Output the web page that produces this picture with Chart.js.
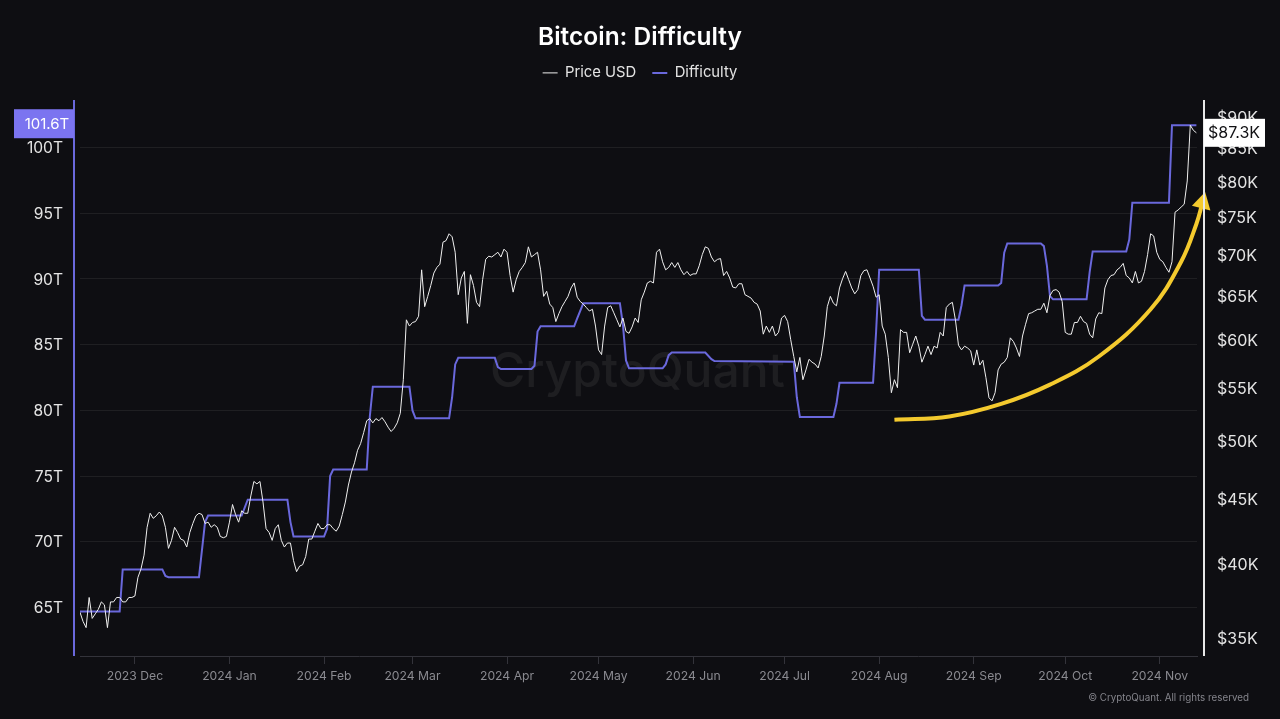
<!DOCTYPE html>
<html>
<head>
<meta charset="utf-8">
<title>Bitcoin: Difficulty</title>
<script src="https://cdn.jsdelivr.net/npm/chart.js@4"></script>
<style>
	html, body { margin: 0; padding: 0; background: #0e0e12; }
	canvas { display: block; }
</style>
</head>
<body>
<canvas id="chart" width="1280" height="719"></canvas>
<script>
// x is days since 2023-11-13
const monthTickDays = [18, 49, 80, 109, 140, 170, 201, 231, 262, 293, 323, 354]
const monthLabels = ['2023 Dec', '2024 Jan', '2024 Feb', '2024 Mar', '2024 Apr', '2024 May', '2024 Jun', '2024 Jul', '2024 Aug', '2024 Sep', '2024 Oct', '2024 Nov']
const difficultyTicks = [65, 70, 75, 80, 85, 90, 95, 100]
const priceTicks = [35, 40, 45, 50, 55, 60, 65, 70, 75, 80, 85, 90]

// daily close in $K
const priceUsdK = [
	36.6, 36.0, 35.6, 37.6, 36.2, 36.5, 36.8, 37.3, 37.1, 35.6,
	37.3, 37.3, 37.6, 37.6, 37.3, 37.3, 37.6, 37.6, 37.7, 39.0,
	39.6, 40.6, 42.7, 43.8, 43.4, 43.6, 43.9, 43.6, 42.7, 41.1,
	41.7, 42.7, 42.3, 41.8, 41.7, 41.2, 42.3, 43.0, 43.6, 43.8,
	43.7, 43.0, 43.1, 42.7, 42.9, 42.7, 42.0, 41.9, 42.0, 43.1,
	44.5, 43.7, 43.1, 44.0, 43.8, 43.8, 45.2, 46.4, 46.2, 46.4,
	44.7, 42.6, 42.3, 41.7, 42.6, 42.9, 41.7, 41.2, 41.5, 41.5,
	40.2, 39.4, 39.8, 39.9, 40.5, 41.8, 41.8, 42.4, 43.0, 42.6,
	42.6, 42.9, 42.9, 42.6, 42.4, 42.8, 43.7, 44.7, 46.1, 47.2,
	48.0, 49.1, 49.7, 50.7, 51.8, 52.0, 51.6, 52.0, 51.8, 52.1,
	51.7, 51.2, 50.8, 51.1, 51.6, 52.5, 55.8, 62.2, 61.5, 61.9,
	62.0, 62.6, 68.1, 63.7, 64.9, 66.2, 67.7, 68.4, 68.8, 71.6,
	71.8, 72.7, 72.3, 70.3, 65.1, 67.1, 67.9, 61.8, 67.5, 66.2,
	64.2, 63.7, 66.9, 69.4, 69.8, 69.7, 70.0, 70.3, 69.7, 70.7,
	70.3, 67.4, 65.4, 66.9, 67.9, 68.4, 69.0, 71.0, 69.7, 70.0,
	70.3, 68.1, 64.9, 65.5, 64.0, 63.6, 62.0, 62.9, 63.7, 64.3,
	64.9, 65.9, 66.5, 64.8, 64.3, 64.0, 63.6, 63.2, 63.4, 61.5,
	58.9, 58.4, 61.5, 63.6, 63.8, 63.0, 62.2, 61.4, 62.4, 60.9,
	60.7, 61.4, 62.4, 61.9, 64.5, 65.4, 66.5, 66.7, 66.5, 70.3,
	70.7, 69.1, 68.1, 68.4, 69.0, 68.4, 69.0, 68.1, 67.5, 67.9,
	67.4, 67.6, 67.6, 68.6, 70.0, 71.0, 70.8, 69.7, 69.1, 69.4,
	69.5, 67.4, 67.9, 67.1, 66.0, 65.9, 66.4, 66.4, 65.1, 64.9,
	64.7, 64.2, 64.0, 63.2, 60.6, 61.5, 60.8, 61.5, 60.4, 60.8,
	62.4, 62.7, 62.0, 60.0, 58.2, 56.6, 58.1, 55.8, 56.8, 57.9,
	57.6, 57.4, 57.0, 58.2, 60.4, 63.7, 64.9, 64.1, 63.8, 65.9,
	67.0, 67.9, 66.9, 65.9, 65.2, 65.7, 67.4, 68.0, 68.1, 67.1,
	66.1, 64.8, 65.1, 61.5, 60.6, 58.1, 54.5, 55.8, 55.0, 61.1,
	60.8, 60.8, 58.6, 59.5, 60.4, 59.3, 57.6, 58.4, 59.3, 58.4,
	59.3, 59.1, 60.8, 60.4, 63.6, 64.0, 64.2, 62.2, 59.4, 58.9,
	59.3, 59.1, 58.8, 57.3, 58.9, 57.3, 57.8, 56.0, 54.0, 53.7,
	54.5, 56.8, 57.4, 57.6, 58.1, 60.2, 59.8, 59.1, 58.2, 60.4,
	61.7, 62.9, 63.0, 63.2, 63.4, 63.4, 64.1, 63.0, 65.0, 65.6,
	65.7, 65.4, 64.3, 60.8, 60.6, 60.6, 61.9, 61.9, 62.6, 62.0,
	61.8, 60.6, 60.2, 62.3, 63.0, 62.9, 65.9, 66.9, 67.4, 67.5,
	68.1, 68.4, 68.9, 67.4, 67.1, 66.5, 67.9, 66.5, 66.7, 67.9,
	70.0, 72.7, 72.4, 70.3, 69.4, 69.1, 68.4, 67.8, 69.1, 75.6,
	75.9, 76.3, 76.7, 80.0, 88.5, 87.7, 87.3,
]

// difficulty only moves at retargets, so just the corners of each step
const difficultyDays = [
	0, 13, 14, 27, 28, 29, 39, 41, 42, 53, 54, 55, 68, 69, 70, 80, 81, 82, 83, 94, 95, 96,
	108, 109, 110, 121, 122, 123, 124, 136, 137, 138, 148, 149, 150, 151, 162, 163, 165,
	177, 178, 179, 180, 191, 192, 193, 194, 205, 207, 208, 234, 235, 236, 247, 248, 249,
	260, 261, 262, 275, 276, 277, 288, 289, 290, 301, 302, 303, 304, 315, 316, 317, 318, 319,
	330, 331, 332, 343, 344, 345, 357, 358, 366,
]
const difficultyT = [
	64.7, 64.7, 67.9, 67.9, 67.4, 67.3, 67.3, 71.5, 72.0, 72.0, 72.6, 73.2, 73.2, 71.5, 70.4, 70.4, 71.0, 75.0, 75.5, 75.5, 79.5, 81.8,
	81.8, 80.0, 79.4, 79.4, 81.0, 83.5, 84.0, 84.0, 83.3, 83.15, 83.15, 83.4, 86.0, 86.4, 86.4, 87.0, 88.15,
	88.15, 86.5, 83.8, 83.2, 83.2, 83.5, 84.2, 84.4, 84.4, 83.9, 83.75, 83.7, 81.0, 79.5, 79.5, 80.5, 82.1,
	82.1, 86.0, 90.7, 90.7, 87.2, 86.9, 86.9, 88.0, 89.5, 89.5, 89.7, 92.0, 92.7, 92.7, 92.5, 91.0, 88.7, 88.45,
	88.45, 90.5, 92.1, 92.1, 93.0, 95.8, 95.8, 101.7, 101.7,
]

const trendDays = [267, 285, 302, 318, 334, 351, 361, 366, 368]
const trendUsdK = [51.9, 52.2, 53.4, 55.3, 58.2, 63.4, 69.1, 74.0, 76.9]

const lastDifficultyLabel = '101.6T'
const lastPriceLabel = '$87.3K'
const lastPriceK = 87.3

const BLUE = '#6a68dc'
const FONT = 'Inter'

function fixTicks(values) {
	return scale => {
		scale.ticks = values.map(value => ({ value }))
	}
}

const chartChrome = {
	id: 'chartChrome',
	beforeInit(chart) {
		// legend box sits right on the plot, stretch it so the plot starts at y=100
		const fit = chart.legend.fit
		chart.legend.fit = function () {
			fit.call(this)
			this.height = 50.5
		}
	},
	beforeDatasetsDraw(chart) {
		const { ctx, chartArea } = chart
		ctx.save()
		ctx.fillStyle = 'rgba(255,255,255,0.065)'
		ctx.font = '500 48px ' + FONT
		ctx.textAlign = 'center'
		ctx.textBaseline = 'middle'
		ctx.fillText('CryptoQuant', (chartArea.left + chartArea.right) / 2 - 1, 373)
		ctx.restore()
	},
	afterDraw(chart) {
		const { ctx, chartArea, scales } = chart
		ctx.save()
		// axis rails sit a few pixels outside the plot
		ctx.lineWidth = 2
		ctx.strokeStyle = BLUE
		ctx.beginPath()
		ctx.moveTo(chartArea.left - 6, chartArea.top)
		ctx.lineTo(chartArea.left - 6, chartArea.bottom)
		ctx.stroke()
		ctx.strokeStyle = '#e8e8e8'
		ctx.beginPath()
		ctx.moveTo(chartArea.right + 7, chartArea.top)
		ctx.lineTo(chartArea.right + 7, chartArea.bottom)
		ctx.stroke()

		// last value tags
		const diffY = scales.y.getPixelForValue(difficultyT[difficultyT.length - 1])
		ctx.fillStyle = '#7b74f0'
		ctx.fillRect(14, diffY - 16, 60, 29)
		ctx.fillStyle = '#ffffff'
		ctx.font = '15px ' + FONT
		ctx.textAlign = 'center'
		ctx.textBaseline = 'middle'
		ctx.fillText(lastDifficultyLabel, 47, diffY - 1)

		const priceY = scales.yPrice.getPixelForValue(lastPriceK)
		ctx.fillStyle = '#ffffff'
		ctx.fillRect(chartArea.right + 7, priceY - 14, 61, 28)
		ctx.fillStyle = '#111114'
		ctx.font = '16px ' + FONT
		ctx.fillText(lastPriceLabel, chartArea.right + 37, priceY)

		ctx.fillStyle = '#85858c'
		ctx.font = '9.8px ' + FONT
		ctx.textAlign = 'right'
		ctx.fillText('© CryptoQuant. All rights reserved', 1249, 698)
		ctx.restore()
	},
}

new Chart(document.getElementById('chart').getContext('2d'), {
	type: 'line',
	data: {
		datasets: [
			{
				label: 'Price USD',
				data: priceUsdK.map((y, x) => ({ x, y })),
				yAxisID: 'yPrice',
				borderColor: '#f0f0f0',
				backgroundColor: '#f0f0f0',
				borderWidth: 1,
				pointRadius: 0,
				tension: 0,
			},
			{
				label: 'Difficulty',
				data: difficultyDays.map((x, i) => ({ x, y: difficultyT[i] })),
				yAxisID: 'y',
				borderColor: BLUE,
				backgroundColor: BLUE,
				borderWidth: 2,
				pointRadius: 0,
				tension: 0,
			},
			{
				label: 'Trend',
				data: trendDays.map((x, i) => ({ x, y: trendUsdK[i] })),
				yAxisID: 'yPrice',
				order: -1,
				clip: false,
				borderColor: '#f4ca2e',
				backgroundColor: '#f4ca2e',
				borderWidth: 4,
				tension: 0.4,
				pointStyle: 'triangle',
				pointRotation: 14,
				pointBorderWidth: 0,
				pointRadius: ctx => (ctx.dataIndex === trendDays.length - 1 ? 11 : 0),
			},
		],
	},
	options: {
		responsive: false,
		animation: false,
		events: [],
		layout: { padding: { top: 4 } },
		scales: {
			x: {
				type: 'linear',
				min: 0,
				max: 366.2,
				afterBuildTicks: fixTicks(monthTickDays),
				afterFit: scale => {
					scale.height = 63
				},
				grid: { drawOnChartArea: false, color: '#33333a', tickLength: 8 },
				border: { color: '#33333a' },
				ticks: {
					color: '#8a8a90',
					font: { family: FONT, size: 12.2 },
					padding: 5,
					autoSkip: false,
					maxRotation: 0,
					callback: (value, index) => monthLabels[index],
				},
			},
			y: {
				type: 'linear',
				position: 'left',
				min: 61.31,
				max: 103.62,
				afterBuildTicks: fixTicks(difficultyTicks),
				afterFit: scale => {
					scale.width = 80
				},
				grid: { color: 'rgba(255,255,255,0.07)', drawTicks: false },
				border: { display: false },
				ticks: {
					color: '#e4e4e4',
					font: { family: FONT, size: 15.6 },
					padding: 17,
					labelOffset: 1,
					callback: value => value + 'T',
				},
			},
			yPrice: {
				type: 'logarithmic',
				position: 'right',
				min: 33.815,
				max: 92.65,
				afterBuildTicks: fixTicks(priceTicks),
				afterFit: scale => {
					scale.width = 83
				},
				grid: { display: false, drawTicks: false },
				border: { display: false },
				ticks: {
					color: '#e4e4e4',
					font: { family: FONT, size: 16 },
					padding: 20,
					labelOffset: 2,
					callback: value => '$' + value + 'K',
				},
			},
		},
		plugins: {
			tooltip: { enabled: false },
			title: {
				display: true,
				text: 'Bitcoin: Difficulty',
				color: '#ffffff',
				font: { family: FONT, size: 24.5, weight: '600', lineHeight: 1 },
				padding: { top: 21, bottom: 0 },
			},
			legend: {
				position: 'top',
				labels: {
					color: '#e4e4e4',
					font: { family: FONT, size: 14.8 },
					usePointStyle: true,
					pointStyle: 'line',
					pointStyleWidth: 15,
					padding: 16,
					filter: item => item.text !== 'Trend',
				},
			},
		},
	},
	plugins: [chartChrome],
})
</script>
</body>
</html>
